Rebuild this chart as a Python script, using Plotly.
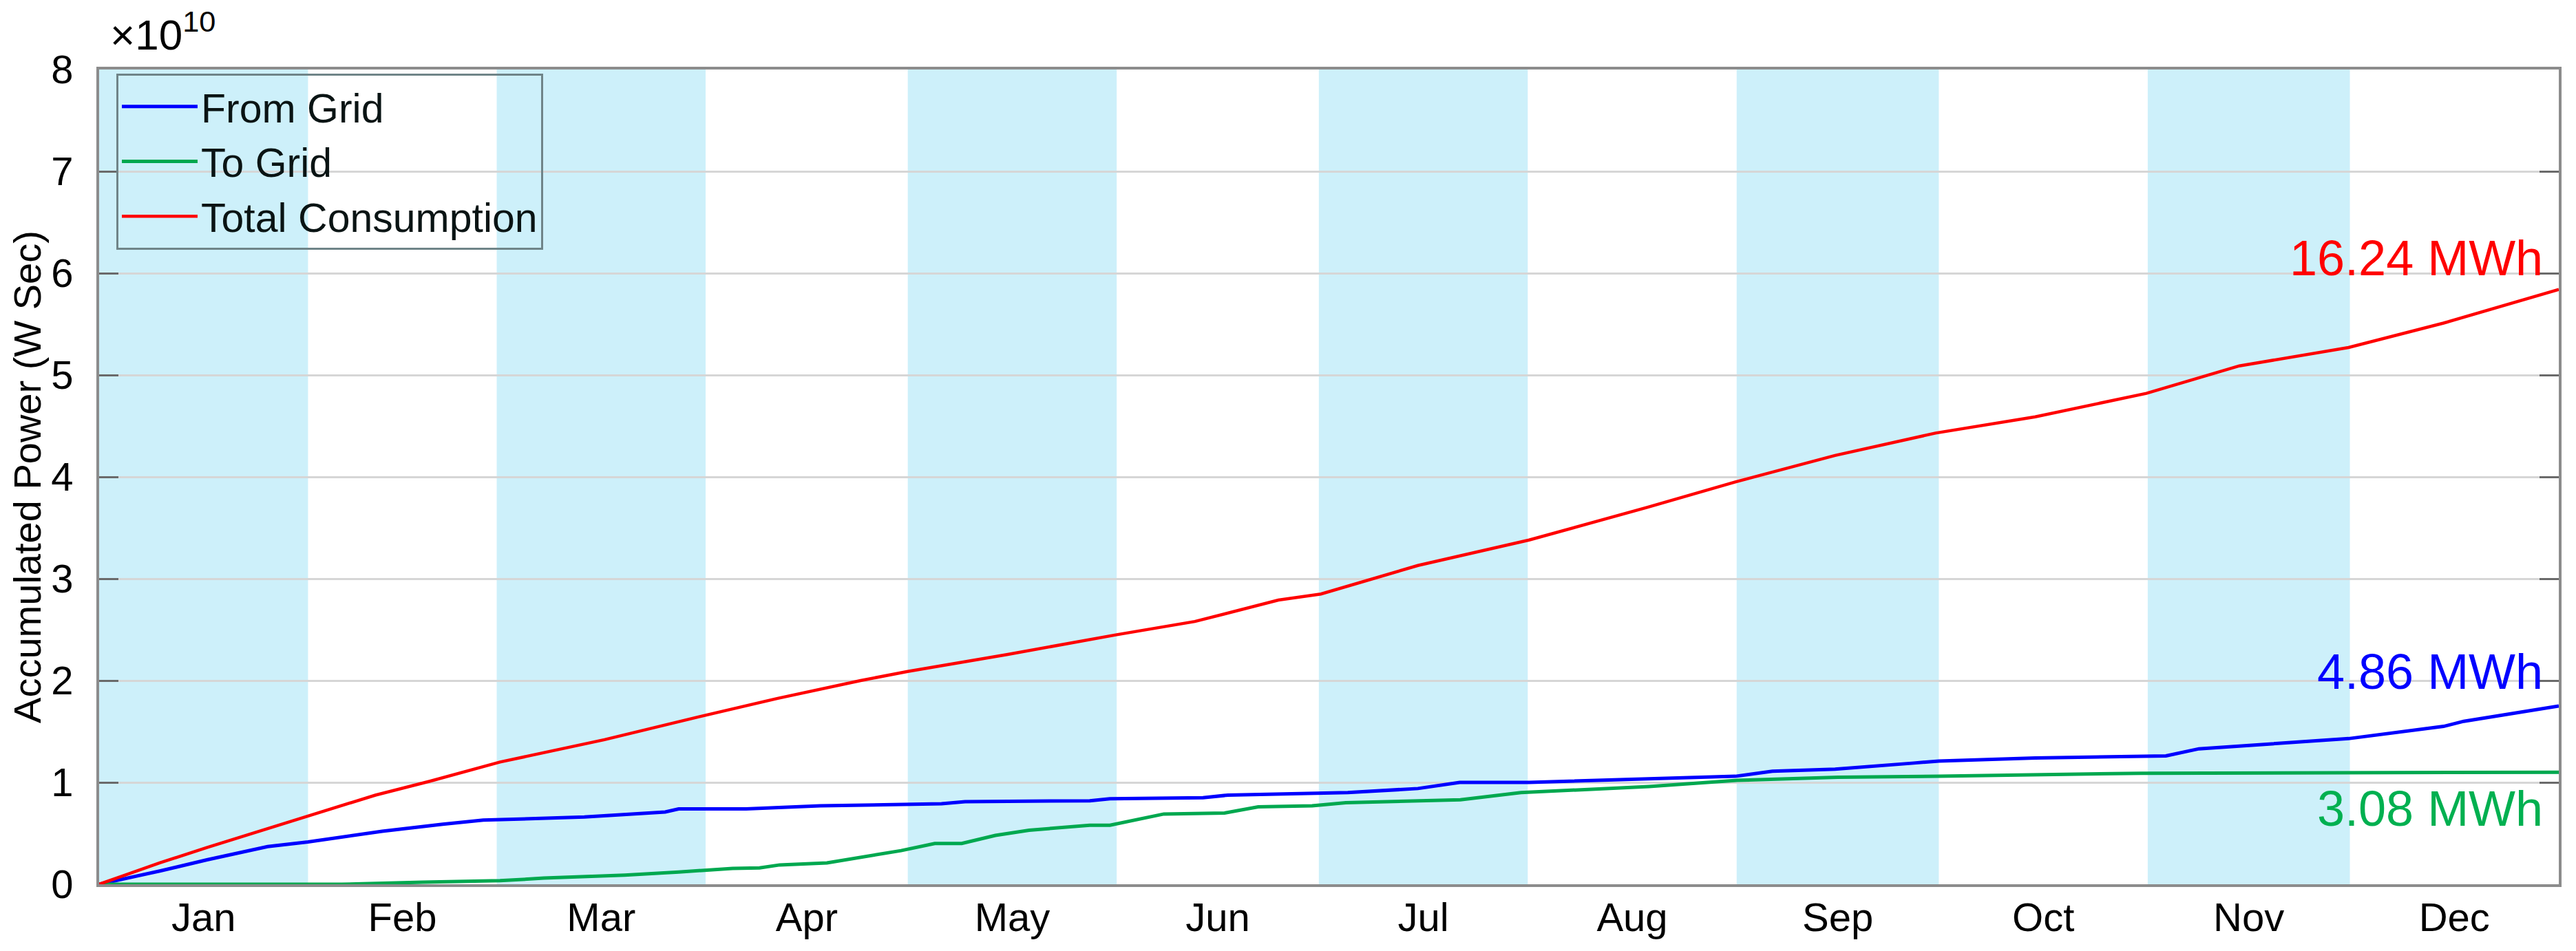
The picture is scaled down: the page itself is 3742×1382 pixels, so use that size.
import plotly.graph_objects as go

# ---------------- data (accumulated power, units of 1e10 W*s) ----------------
month_labels = ["Jan", "Feb", "Mar", "Apr", "May", "Jun",
                "Jul", "Aug", "Sep", "Oct", "Nov", "Dec"]
month_days = [31, 28, 31, 30, 31, 30, 31, 31, 30, 31, 30, 31]

total_day = [0, 9, 16, 25, 31, 41, 49, 59.5, 75, 90, 100.7, 113, 120, 134.7,
             151, 162.6, 175, 181.3, 195.7, 212.2, 229.7, 242.8, 257.6, 272.5,
             287.3, 303.8, 317.6, 333.8, 347.9, 365]
total_val = [0, 0.21, 0.36, 0.55, 0.67, 0.875, 1.01, 1.20, 1.42, 1.66, 1.825,
             2.0, 2.09, 2.255, 2.45, 2.58, 2.79, 2.85, 3.13, 3.38, 3.70, 3.95,
             4.21, 4.43, 4.59, 4.82, 5.09, 5.27, 5.51, 5.84]

from_day = [0, 9, 16, 25, 31, 42, 51, 57, 72, 84, 86, 96, 107, 125, 128.5,
            147, 150, 163.8, 167.5, 180, 185.3, 195.7, 201.9, 212.2, 242.8,
            248.3, 257.6, 269.3, 273, 287.3, 306.7, 311.6, 333.8, 347.9,
            350.9, 365]
from_val = [0, 0.13, 0.24, 0.37, 0.415, 0.52, 0.59, 0.63, 0.66, 0.71, 0.74,
            0.74, 0.77, 0.79, 0.81, 0.82, 0.84, 0.85, 0.875, 0.89, 0.90, 0.94,
            1.0, 1.0, 1.06, 1.11, 1.13, 1.19, 1.21, 1.24, 1.26, 1.33, 1.43,
            1.55, 1.60, 1.75]

to_day = [0, 36, 48, 59.5, 66, 78, 86, 94, 98, 101, 108, 119, 124, 128, 133,
          138, 147, 150, 158, 167, 172, 180, 185, 202, 211, 230, 243, 258,
          273, 303, 365]
to_val = [0, 0, 0.02, 0.035, 0.06, 0.09, 0.12, 0.155, 0.16, 0.19, 0.21, 0.33,
          0.40, 0.40, 0.48, 0.53, 0.58, 0.58, 0.69, 0.70, 0.76, 0.77, 0.80,
          0.83, 0.90, 0.96, 1.02, 1.05, 1.06, 1.09, 1.10]

end_labels = ["16.24 MWh", "4.86 MWh", "3.08 MWh"]
end_label_y = [6.15, 2.09, 0.74]

# ---------------- derived calendar positions ----------------
month_start = [sum(month_days[:i]) for i in range(12)]
month_mid = [month_start[i] + month_days[i] / 2 for i in range(12)]

FONT = "Liberation Sans, Arial, Helvetica, sans-serif"
BAND = "rgb(205,240,250)"
BLUE = "#0000FF"
GREEN = "#00A84F"
RED = "#FF0000"

fig = go.Figure()
fig.add_trace(go.Scatter(x=from_day, y=from_val, mode="lines", name="From Grid",
                         line=dict(color=BLUE, width=5)))
fig.add_trace(go.Scatter(x=to_day, y=to_val, mode="lines", name="To Grid",
                         line=dict(color=GREEN, width=5)))
fig.add_trace(go.Scatter(x=total_day, y=total_val, mode="lines",
                         name="Total Consumption",
                         line=dict(color=RED, width=4.5)))

# shaded alternate months (Jan, Mar, May, ...)
for i in range(0, 12, 2):
    fig.add_shape(type="rect", xref="x", yref="paper",
                  x0=month_start[i], x1=month_start[i] + month_days[i],
                  y0=0, y1=1, fillcolor=BAND, line=dict(width=0),
                  layer="below")

# end labels
for txt, yv, col in zip(end_labels, end_label_y, [RED, BLUE, "#00B050"]):
    fig.add_annotation(x=0.9941, xref="paper", y=yv, yref="y", text=txt,
                       showarrow=False, xanchor="right", yanchor="middle",
                       font=dict(family=FONT, size=72, color=col))

# exponent label
fig.add_annotation(x=0.004, xref="paper", y=1.012, yref="paper",
                   text="×10<sup>10</sup>", showarrow=False,
                   xanchor="left", yanchor="bottom",
                   font=dict(family=FONT, size=62, color="#000000"))

fig.update_layout(
    width=3742, height=1382, autosize=False,
    margin=dict(l=136, r=33, t=93, b=105, pad=0),
    paper_bgcolor="white", plot_bgcolor="white",
    font=dict(family=FONT, size=58, color="#000000"),
    showlegend=True,
    legend=dict(x=0.007, y=0.995, xanchor="left", yanchor="top",
                bgcolor="rgba(0,0,0,0)", bordercolor="#6f8488",
                borderwidth=3, font=dict(family=FONT, size=59, color="#0a1414"),
                itemwidth=110, tracegroupgap=0),
)

fig.update_xaxes(range=[0, 365], tickmode="array", tickvals=month_mid,
                 ticktext=month_labels, ticks="", showgrid=False,
                 zeroline=False, showline=True, mirror=True,
                 linecolor="#8c8c8c", linewidth=4,
                 tickfont=dict(family=FONT, size=58, color="#000000"),
                 ticklabelstandoff=-6)
fig.update_yaxes(range=[0, 8], tickmode="array", tickvals=list(range(9)),
                 ticktext=[str(v) for v in range(9)],
                 ticks="inside", ticklen=28, tickwidth=3, tickcolor="#6a6a6a",
                 showgrid=True, gridcolor="#d6d6d6", gridwidth=3,
                 zeroline=False, showline=True, mirror="ticks",
                 linecolor="#8c8c8c", linewidth=4,
                 tickfont=dict(family=FONT, size=58, color="#000000"),
                 ticklabelstandoff=22,
                 title=dict(text="Accumulated Power (W Sec)",
                            font=dict(family=FONT, size=56, color="#000000"),
                            standoff=8))

fig.write_html("out.html")
